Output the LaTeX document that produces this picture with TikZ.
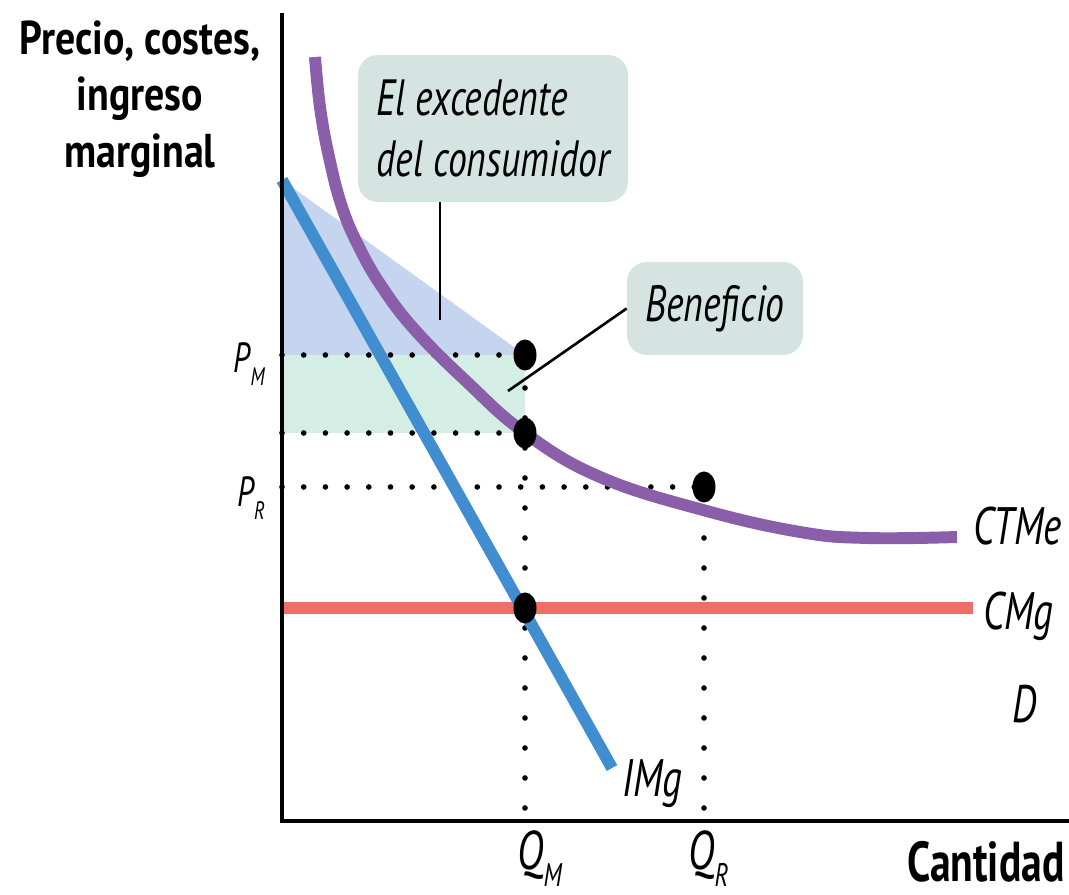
\documentclass[tikz,border=0pt]{standalone}
\usepackage{fontspec}
\usepackage{xcolor}
\usepackage{tikz}
\usetikzlibrary{shapes.geometric}
\setmainfont{PT Sans}[FakeStretch=0.74]
\newfontfamily\axisfont{PT Sans}[FakeStretch=0.74]
\newfontfamily\titlefont{PT Sans}[FakeStretch=0.84]
\definecolor{imgblue}{HTML}{408ECF}
\definecolor{ctpurple}{HTML}{8A5EA8}
\definecolor{cmgred}{HTML}{F06E68}
\definecolor{surplus}{HTML}{C6D5EF}
\definecolor{profit}{HTML}{D5EEE5}
\definecolor{boxfill}{HTML}{D5E4E0}
\newcommand{\Sub}[1]{\raisebox{-0.3em}{\scalebox{0.6}{#1}}}
\tikzset{
    Dot/.style = {fill,ellipse,inner sep=0pt,minimum width=0.46cm,minimum height=0.62cm},
    Curve/.style = {line width=6.8pt},
    Dotted/.style = {line width=3.2pt,line cap=round,dash pattern=on 0pt off #1},
    Dotted/.default = 0.434cm,
    Callout/.style = {fill=boxfill,rounded corners=0.4cm,inner sep=0.3cm,align=left,
        font=\fontsize{29}{35}\selectfont\itshape},
    Pointer/.style = {line width=1.5pt},
    Lbl/.style = {font=\fontsize{30}{36}\selectfont\itshape,inner sep=0pt},
    PLbl/.style = {font=\fontsize{24}{30}\selectfont\itshape,inner sep=0pt},
    QLbl/.style = {font=\fontsize{31}{36}\selectfont\itshape,inner sep=0pt}
}

\begin{document}
\begin{tikzpicture}
        \useasboundingbox (-5.64,-1.48) rectangle (15.74,16.42);
        % points of the diagram
        \coordinate (A) at (0,12.82);
        \coordinate (M) at (4.86,9.32);
        \coordinate (C) at (4.86,7.76);
        \coordinate (R) at (8.44,6.68);
        \coordinate (G) at (4.86,4.26);
        % surplus and profit
        \fill[surplus] (A) -- (M) -- (0,0 |- M) -- cycle;
        \fill[profit] (0,0 |- M) rectangle (C);
        % guides
        \foreach \p in {M,C,R}
            {\draw[Dotted] (0,0 |- \p) -- (\p);}
        \foreach \p in {M,R}
            {\draw[Dotted=0.6cm] (\p |- 0,0.26) -- (\p);}
        % curves
        \draw[Curve,cmgred] (0,0 |- G) -- (13.82,0 |- G);
        \draw[Curve,imgblue] (A) -- (6.6,1.06);
        \draw[Curve,ctpurple] plot[smooth,tension=0.7] coordinates {(0.66,15.28) (0.76,14.28)
            (0.94,13.28) (1.20,12.28) (1.54,11.48) (2.00,10.68) (2.66,9.82) (3.70,8.78) (C)
            (6.36,6.88) (8.42,6.22) (10.36,5.78) (11.70,5.66) (13.50,5.68)};
        \foreach \p in {M,C,R,G}
            {\node[Dot] (d\p) at (\p) {};}
        % axes
        \draw[line width=1.8pt] (0,16.16) -- (0,0) -- (15.74,0);
        \node[font=\titlefont\bfseries\fontsize{27}{32.3}\selectfont,align=center,inner sep=0pt,anchor=north]
            (ytitle) at (-2.84,16.02) {Precio, costes,\\ingreso\\marginal};
        \node[font=\axisfont\bfseries\fontsize{32}{36}\selectfont,inner sep=0pt,anchor=base east]
            (xtitle) at (15.66,-1.22) {Cantidad};
        % labels
        \node[PLbl,anchor=base east] (pm) at (-0.34,8.96) {P\Sub{M}};
        \node[PLbl,anchor=base east] (pr) at (-0.34,6.28) {P\Sub{R}};
        \node[QLbl,anchor=base west] (qm) at (4.70,-0.98) {Q\Sub{M}};
        \node[QLbl,anchor=base west] (qr) at (8.12,-0.98) {Q\Sub{R}};
        \node[Lbl,anchor=base west] (ctme) at (13.82,5.52) {CTMe};
        \node[Lbl,anchor=base west] (cmg) at (14.02,3.82) {CMg};
        \node[Lbl,anchor=base west] (dem) at (14.60,1.96) {D};
        \node[Lbl,anchor=base west] (img) at (6.80,0.48) {IMg};
        % callouts
        \node[Callout,minimum width=5.4cm,minimum height=2.94cm]
            (cs) at (4.22,13.85) {El excedente\\del consumidor};
        \coordinate (csTip) at (3.16,10.02);
        \draw[Pointer] (cs.south -| csTip) -- (csTip);
        \node[Callout,minimum width=3.52cm,minimum height=1.86cm] (bn) at (8.66,10.25) {Beneficio};
        \coordinate (bnTip) at (4.52,8.6);
        \draw[Pointer] (bn.west) -- (bnTip);
\end{tikzpicture}
\end{document}
